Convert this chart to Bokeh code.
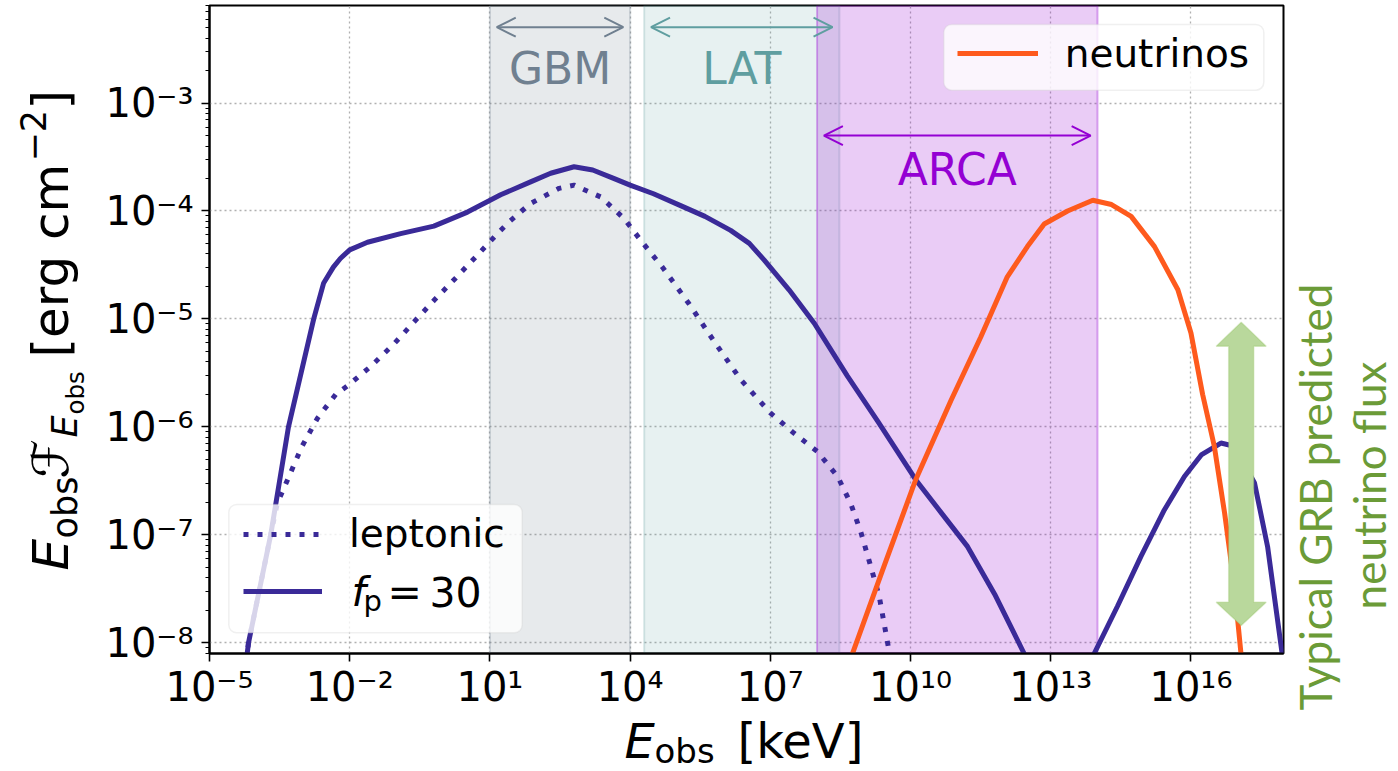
import math
from bokeh.plotting import figure
from bokeh.layouts import row, column
from bokeh.models import (Range1d, FixedTicker, BoxAnnotation, Arrow, OpenHead, Label,
                          Legend, LegendItem, PolyAnnotation, LinearScale)
from bokeh.embed import file_html
from bokeh.resources import INLINE

# ------------------------------------------------------------------ data
# log10(E_obs / keV) and log10(E F_E / erg cm^-2)
fp30_logE = [-4.25, -4.165, -3.69, -3.31, -2.77, -2.56, -2.35, -2.2, -2.0, -1.62, -0.91, -0.2,
             0.52, 1.23, 1.87, 2.3, 2.8, 3.2, 3.66, 4.0, 4.5, 5.08, 5.6, 6.15, 6.55, 6.87, 7.4,
             7.94, 8.65, 9.3, 10.11, 10.7, 11.22, 11.8, 12.43, 12.8, 13.7, 13.93, 14.43, 14.93,
             15.43, 15.86, 16.22, 16.64, 16.93, 17.36, 17.64, 17.95, 18.02]
fp30_logF = [-8.3, -8.0, -7.0, -6.0, -5.0, -4.67, -4.52, -4.44, -4.36, -4.29, -4.21, -4.14,
             -4.01, -3.85, -3.73, -3.65, -3.59, -3.62, -3.70, -3.76, -3.84, -3.95, -4.05, -4.18,
             -4.3, -4.455, -4.73, -5.04, -5.53, -5.95, -6.49, -6.82, -7.11, -7.55, -8.1, -8.6,
             -8.6, -8.1, -7.66, -7.2, -6.77, -6.46, -6.26, -6.15, -6.18, -6.52, -7.11, -8.1, -8.3]

lep_logE = [-4.25, -4.165, -3.69, -3.55, -3.27, -3.02, -2.69, -2.30, -2.02, -1.55, -1.05, -0.63,
            -0.20, 0.27, 0.73, 1.16, 1.41, 1.87, 2.48, 2.80, 3.37, 3.87, 4.26, 4.69, 5.26, 5.80,
            6.37, 7.0, 7.51, 8.01, 8.44, 8.72, 8.94, 9.12, 9.33, 9.55, 9.62]
lep_logF = [-8.3, -8.0, -7.0, -6.71, -6.43, -6.18, -5.92, -5.70, -5.61, -5.44, -5.23, -5.03,
            -4.83, -4.62, -4.41, -4.21, -4.10, -3.93, -3.79, -3.76, -3.87, -4.07, -4.29, -4.52,
            -4.86, -5.21, -5.565, -5.87, -6.06, -6.23, -6.46, -6.71, -6.98, -7.25, -7.57, -8.1,
            -8.3]

nu_logE = [8.7, 9.4, 10.11, 10.86, 11.5, 12.07, 12.5, 12.86, 13.36, 13.9, 14.3, 14.72, 15.22,
           15.72, 16.0, 16.25, 16.5, 16.72, 16.93, 17.07, 17.12]
nu_logF = [-8.17, -7.33, -6.49, -5.76, -5.17, -4.61, -4.33, -4.12, -4.0, -3.9, -3.94, -4.05,
           -4.33, -4.73, -5.13, -5.7, -6.18, -6.8, -7.48, -8.1, -8.3]

series_names = ["leptonic", "f_p = 30", "neutrinos"]

band_names = ["GBM", "LAT", "ARCA"]
band_lo = [1e1, 2e4, 1e8]          # keV
band_hi = [1e4, 3e8, 1e14]         # keV
band_text_y = [2.1e-3, 2.1e-3, 2.4e-4]
band_arrow_y = [5.05e-3, 5.05e-3, 5.0e-4]

x_ticks = [1e-5, 1e-2, 1e1, 1e4, 1e7, 1e10, 1e13, 1e16]
x_tick_labels = ["10⁻⁵", "10⁻²", "10¹", "10⁴", "10⁷", "10¹⁰", "10¹³", "10¹⁶"]
y_ticks = [1e-8, 1e-7, 1e-6, 1e-5, 1e-4, 1e-3]
y_tick_labels = ["10⁻⁸", "10⁻⁷", "10⁻⁶", "10⁻⁵", "10⁻⁴", "10⁻³"]
y_minor = [k * 10.0 ** n for n in range(-9, -2) for k in range(2, 10)]

X_LO, X_HI = -5.0, 17.98     # log10 of x range
Y_LO, Y_HI = -8.1, -2.096    # log10 of y range

# ------------------------------------------------------------------ styles / layout
BLUE = "#3a2a98"
ORANGE = "#fe5a1d"
BAND_COLORS = ["#708090", "#5f9ea0", "#9400d3"]
BAND_ALPHA = [0.17, 0.15, 0.2]
GREEN_TXT = "#6b9b37"
FONT = "DejaVu Sans"
# distance (em) between the alphabetic baseline and the "middle" anchor
MID = {"DejaVu Sans": 0.346, "Lato": 0.387}

FR_L, FR_R, FR_T, FR_B = 209, 1283, 5, 654     # frame edges in the page
LEFT_W, RIGHT_X, SPLIT_Y = 95, 1288, 712


def helper(width, height, bl=0, br=0):
    f = figure(width=width, height=height, x_range=Range1d(0, width - bl - br),
               y_range=Range1d(0, height),
               x_axis_location=None, y_axis_location=None, toolbar_location=None,
               output_backend="svg", min_border=0, min_border_left=bl, min_border_right=br)
    f.x_scale = LinearScale()
    f.y_scale = LinearScale()
    f.outline_line_color = None
    f.background_fill_color = "white"
    f.border_fill_color = "white"
    f.grid.visible = False
    return f


def lbl(fig, text, x, y, size, color="black", style="normal", angle=0.0, align="left",
        font=FONT):
    """(x, y) in screen px of the figure's frame is a point on the alphabetic baseline."""
    shift = MID.get(font, 0.35) * size
    xo, yo = (0.0, shift) if angle == 0 else (-shift, 0.0)
    fig.add_layout(Label(x=x, y=y, x_units="screen", y_units="screen", text=text, x_offset=xo,
                         y_offset=yo, text_font=font, text_font_size=f"{size}px",
                         text_font_style=style, text_color=color, angle=angle,
                         text_align=align, text_baseline="middle"))


# ------------------------------------------------------------------ main plot
p = figure(width=RIGHT_X - LEFT_W, height=SPLIT_Y, x_axis_type="log", y_axis_type="log",
           x_range=Range1d(10 ** X_LO, 10 ** X_HI), y_range=Range1d(10 ** Y_LO, 10 ** Y_HI),
           output_backend="svg", toolbar_location=None,
           min_border_left=FR_L - LEFT_W, min_border_right=RIGHT_X - FR_R,
           min_border_top=FR_T, min_border_bottom=SPLIT_Y - FR_B)
p.background_fill_color = "white"
p.border_fill_color = "white"
p.outline_line_color = "black"
p.outline_line_width = 2
p.outline_line_alpha = 1

xt = FixedTicker(ticks=x_ticks, minor_ticks=[])
yt = FixedTicker(ticks=y_ticks, minor_ticks=y_minor)
p.xaxis.ticker = xt
p.yaxis.ticker = yt
p.xgrid.ticker = xt
p.ygrid.ticker = yt
p.xaxis.major_label_overrides = dict(zip(x_ticks, x_tick_labels))
p.yaxis.major_label_overrides = dict(zip(y_ticks, y_tick_labels))
for ax in (p.xaxis[0], p.yaxis[0]):
    ax.axis_line_color = "black"
    ax.axis_line_width = 2
    ax.major_tick_line_color = "black"
    ax.major_tick_line_width = 1.6
    ax.major_tick_out = 8
    ax.major_tick_in = 0
    ax.minor_tick_line_color = "black"
    ax.minor_tick_line_width = 1.2
    ax.minor_tick_out = 4
    ax.minor_tick_in = 0
    ax.major_label_text_font = FONT
    ax.major_label_text_font_size = "40px"
    ax.major_label_text_color = "black"
p.xaxis.major_label_standoff = 2
p.yaxis.major_label_standoff = 8

p.grid.grid_line_color = "#b0b0b0"
p.grid.grid_line_dash = "2 3"
p.grid.grid_line_width = 1.3

for name, lo, hi, col, a, ty, ay in zip(band_names, band_lo, band_hi, BAND_COLORS, BAND_ALPHA,
                                         band_text_y, band_arrow_y):
    p.add_layout(BoxAnnotation(left=lo, right=hi, fill_color=col, fill_alpha=a,
                               line_color=col, line_alpha=min(1, a * 1.6), line_width=2,
                               level="underlay"))
    p.add_layout(Arrow(x_start=lo * 1.4, x_end=hi / 1.4, y_start=ay, y_end=ay,
                       line_color=col, line_width=2,
                       start=OpenHead(size=19, line_color=col, line_width=2),
                       end=OpenHead(size=19, line_color=col, line_width=2)))
    p.add_layout(Label(x=math.sqrt(lo * hi), y=ty, text=name, text_align="center",
                       text_baseline="middle", text_font=FONT, text_font_size="44px",
                       text_color=col))

r_fp = p.line([10 ** v for v in fp30_logE], [10 ** v for v in fp30_logF],
              line_color=BLUE, line_width=5)
r_lep = p.line([10 ** v for v in lep_logE], [10 ** v for v in lep_logF],
               line_color=BLUE, line_width=5, line_dash="5 9", line_cap="butt")
r_nu = p.line([10 ** v for v in nu_logE], [10 ** v for v in nu_logF],
              line_color=ORANGE, line_width=5)


def legend_box(left, right, bottom, top):
    kw = dict(left=left, right=right, bottom=bottom, top=top, left_units="screen",
              right_units="screen", top_units="screen", bottom_units="screen",
              fill_color="white", fill_alpha=0.8, line_color="#cccccc", line_width=1.5,
              level="annotation")
    if "border_radius" in BoxAnnotation.properties():
        kw["border_radius"] = 8
    p.add_layout(BoxAnnotation(**kw))


leg_kw = dict(orientation="vertical", glyph_height=48, label_height=48, padding=0, margin=0,
              border_line_alpha=0, background_fill_alpha=0, label_text_font=FONT,
              label_text_font_size="39px", label_text_color="black")

legend_box(19.3, 312.7, 20.7, 149)
p.add_layout(Legend(items=[LegendItem(label=series_names[0], renderers=[r_lep]),
                           LegendItem(label=" ", renderers=[r_fp])],
                    location=(34, 38.3), glyph_width=79, label_standoff=27, spacing=9,
                    **leg_kw))
lbl(p, "f", 142, 47.3, 41, style="italic")
lbl(p, "p", 154, 42, 29)
lbl(p, "=", 178, 47.3, 41)
lbl(p, "30", 220, 47.3, 41)

legend_box(734.3, 1054.3, 563.3, 629)
p.add_layout(Legend(items=[LegendItem(label=series_names[2], renderers=[r_nu])],
                    location=(747.7, 575.7), glyph_width=81, label_standoff=27, spacing=0,
                    **leg_kw))

# green double arrow (annotation)
cx, top_tip, top_base, bot_base, bot_tip, hw, sw = 1031.7, 331.3, 307.3, 51.3, 28.0, 25.0, 12.5
p.add_layout(PolyAnnotation(
    xs=[cx, cx + hw, cx + sw, cx + sw, cx + hw, cx, cx - hw, cx - sw, cx - sw, cx - hw],
    ys=[top_tip, top_base, top_base, bot_base, bot_base, bot_tip, bot_base, bot_base,
        top_base, top_base],
    xs_units="screen", ys_units="screen", fill_color="#b9d89c", fill_alpha=1.0,
    line_color="#8dc05a", line_width=1.5))

# ------------------------------------------------------------------ left strip: y label
left = helper(LEFT_W, 771)
A = math.pi / 2
for text, bx, py, size, style in [("E", 68, 570, 50, "italic"), ("obs", 77, 538, 35, "normal"),
                                  ("ℱ", 68, 478, 50, "italic"), ("E", 77, 437, 35, "italic"),
                                  ("obs", 83, 414, 24.5, "normal"),
                                  ("[erg cm", 68, 357, 50, "normal"),
                                  ("−2", 45, 161, 35, "normal"), ("]", 68, 109, 50, "normal")]:
    lbl(left, text, bx, 771 - py, size, style=style, angle=A)

# ------------------------------------------------------------------ bottom strip: x label
# same side borders as the main plot, so its frame lines up with the main frame
BOT_H = 771 - SPLIT_Y
bottom = helper(RIGHT_X - LEFT_W, BOT_H, bl=FR_L - LEFT_W, br=RIGHT_X - FR_R)
lbl(bottom, "E", 624 - FR_L, 771 - 757, 48, style="italic")
lbl(bottom, "obs", 654 - FR_L, 771 - 762, 34)
lbl(bottom, "[keV]", 737 - FR_L, 771 - 757, 48)

# ------------------------------------------------------------------ right strip: caption
right = helper(1398 - RIGHT_X, 771)
lbl(right, "Typical GRB predicted", 1332 - RIGHT_X, 771 - 496.5, 44, color=GREEN_TXT,
    angle=A, align="center", font="Lato")
lbl(right, "neutrino flux", 1386 - RIGHT_X, 771 - 485, 44, color=GREEN_TXT, angle=A,
    align="center", font="Lato")

layout = row(left, column(p, bottom), right)
open("out.html", "w").write(file_html(layout, INLINE))
